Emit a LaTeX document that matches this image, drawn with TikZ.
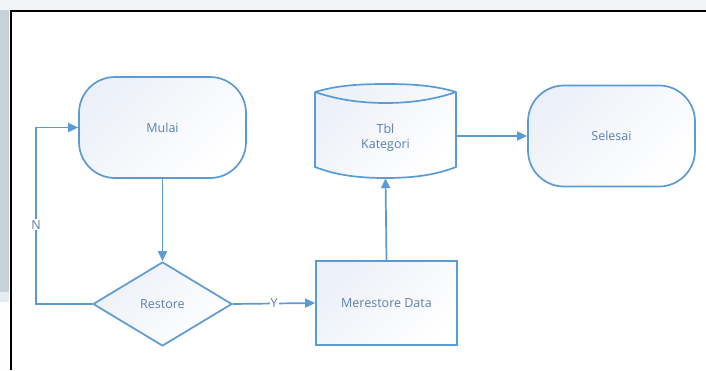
\documentclass[tikz,border=0pt]{standalone}
\usepackage{fontspec}
\setmainfont{Open Sans}
\usetikzlibrary{shapes.geometric,arrows.meta}
\definecolor{lineblue}{HTML}{5B9BD5}
\definecolor{textblue}{HTML}{5A80B2}
\definecolor{fillblue}{HTML}{ECF0F8}
\definecolor{stripgrey}{HTML}{C6D2D8}
\definecolor{stripfade}{HTML}{E6EDF2}
\definecolor{topstrip}{HTML}{F1F5F8}

\tikzset{
  flowline/.style={draw=lineblue, line width=1.7pt},
  flowarrow/.style={flowline, -{Triangle[length=10pt,width=9pt]}},
  softshade/.style={top color=fillblue, bottom color=white, shading angle=45},
  shapefill/.style={draw=lineblue, line width=1.7pt, softshade},
  lbl/.style={text=textblue, font=\fontsize{12.5}{15}\selectfont},
  terminal/.style={shapefill, lbl, rectangle, rounded corners=36pt,
    minimum width=167pt, minimum height=101pt, inner sep=0pt},
  decision/.style={shapefill, lbl, diamond, minimum width=139pt,
    minimum height=84pt, inner sep=0pt},
  process/.style={shapefill, lbl, rectangle, minimum width=141pt,
    minimum height=84pt, inner sep=0pt},
  edgelabel/.style={lbl, fill=white, inner sep=1pt}
}

\begin{document}
\begin{tikzpicture}[x=1pt, y=-1pt]
\useasboundingbox (0,0) rectangle (706,370);

% window surroundings
\fill[topstrip] (0,0) rectangle (706,10);
\fill[stripgrey] (0,10) rectangle (9,292);
\fill[stripfade] (0,292) rectangle (9,302);
\fill[white!97!stripfade] (0,302) rectangle (9,370);
\draw[black, line width=2pt] (10.5,370) -- (10.5,10.5) -- (706,10.5);

% nodes
\node[terminal] (mulai) at (162.5,127.5) {Mulai};
\node[decision] (restore) at (162.5,304) {Restore};
\node[process] (merestore) at (386.5,303) {Merestore Data};
\node[terminal] (selesai) at (611.5,136) {Selesai};

% database cylinder (outline drawn around an invisible node)
\node[minimum width=141pt, minimum height=94pt, inner sep=0pt] (tbl) at (385.5,131) {};
\path[softshade, draw=lineblue, line width=1.7pt, line join=round]
  (315,92) .. controls (338,85) and (362,84) .. (385.5,84)
  .. controls (409,84) and (433,85) .. (456,92)
  -- (456,167)
  .. controls (433,176) and (409,178) .. (385.5,178)
  .. controls (362,178) and (338,176) .. (315,167)
  -- cycle;
\draw[flowline]
  (315,92) .. controls (338,100) and (362,103) .. (385.5,103)
  .. controls (409,103) and (433,100) .. (456,92);
\node[lbl, align=center] (tbltext) at (385.5,138) {Tbl\\Kategori};

% connectors
\draw[flowarrow] (mulai.south) -- (restore.north);
\draw[flowarrow] (restore.east) -- node[edgelabel] {Y} (merestore.west);
\coordinate (loopcorner) at (36,304);
\coordinate (looptop) at (36,127.5);
\draw[flowarrow] (restore.west) -- (loopcorner)
  -- node[edgelabel, pos=0.45] {N} (looptop) -- (mulai.west);
\draw[flowarrow] (merestore.north) -- (tbl.south);
\draw[flowarrow] (tbl.east |- selesai.west) -- (selesai.west);
\end{tikzpicture}
\end{document}
